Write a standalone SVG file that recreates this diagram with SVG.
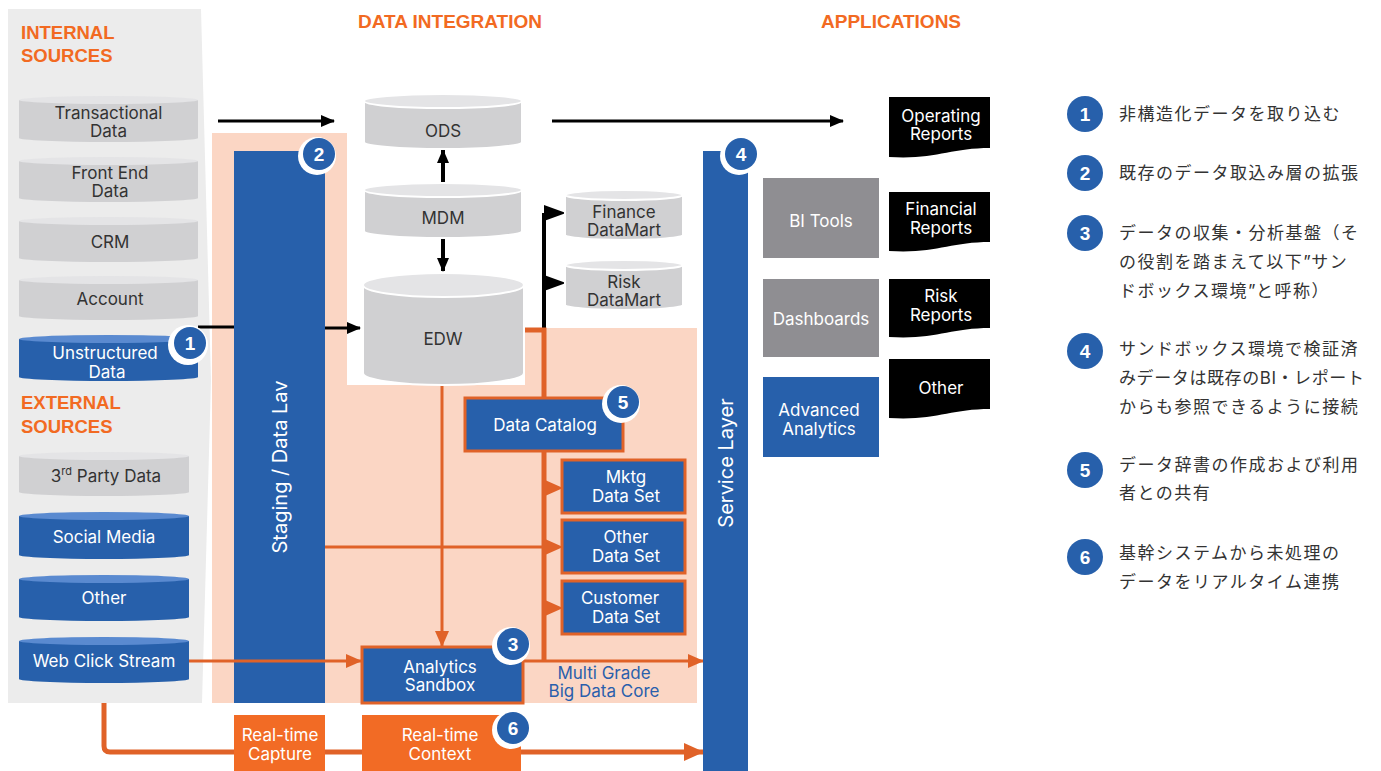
<svg xmlns="http://www.w3.org/2000/svg" width="1381" height="771" viewBox="0 0 1381 771">
<defs>
<style>
.t{font-family:Inter,"Liberation Sans",sans-serif;font-size:17px;text-anchor:middle}
.dk{fill:#333}
.wh{fill:#fff}
.mg{fill:#2a5fac}
.hd{font-family:"Liberation Sans",Arial,sans-serif;font-weight:bold;font-size:18.5px;fill:#f26a22}
.hd2{font-size:19px}
.bn{fill:#fff;font-family:"Liberation Sans",Arial,sans-serif;font-weight:bold;font-size:19px;text-anchor:middle}
.lg{font-family:"Noto Sans CJK JP",sans-serif;font-size:17px;fill:#333;letter-spacing:1.5px}
.lgn{letter-spacing:0.6px}
.lat{font-family:Inter,"Liberation Sans",sans-serif;letter-spacing:0.5px}
.rot{font-family:Inter,"Liberation Sans",sans-serif;font-size:20px;fill:#fff;text-anchor:middle}
.blue{fill:#2760ab}
.ob{fill:#2760ab;stroke:#e06228;stroke-width:3}
.org{fill:#f26b25}
.gbox{fill:#8f8e92}
.doc{fill:#000}
.ol{stroke:#e06228;fill:none}
.bl{stroke:#000;fill:none}
.cyl{fill:#d0d0d2}
.cylb{fill:#2760ab}
.cylt{fill:#e4e4e6}
.cyltb{fill:#5a8ad0}
.bc{fill:#d0d0d2;stroke:#fff;stroke-width:2}
.bct{fill:#e4e4e6;stroke:#fff;stroke-width:2}
.ring{fill:#fff}
.dot{fill:#2760ab}
</style>
<marker id="ab" markerUnits="userSpaceOnUse" markerWidth="14" markerHeight="12" refX="13" refY="6" orient="auto">
<path d="M0,0 L14,6 L0,12 Z" fill="#000"/>
</marker>
<marker id="ao" markerUnits="userSpaceOnUse" markerWidth="16" markerHeight="14" refX="15" refY="7" orient="auto">
<path d="M0,0 L16,7 L0,14 Z" fill="#e06228"/>
</marker>
<marker id="aoL" markerUnits="userSpaceOnUse" markerWidth="20" markerHeight="18" refX="19" refY="9" orient="auto">
<path d="M0,0 L20,9 L0,18 Z" fill="#e06228"/>
</marker>
</defs>

<!-- backgrounds -->
<g id="bg">
<rect width="1381" height="771" fill="#fff"/>
<polygon points="8,9 201,9 211,380 202,703 8,703" fill="#ececec"/>
<path d="M212,133 H347 V385 H525 V328 H697 V703 H212 Z" fill="#fbd6c4"/>
</g>

<g id="headers">
<text class="hd" x="21" y="39">INTERNAL</text>
<text class="hd" x="21" y="62">SOURCES</text>
<text class="hd" x="21" y="409">EXTERNAL</text>
<text class="hd" x="21" y="433">SOURCES</text>
<text class="hd hd2" x="358" y="28">DATA INTEGRATION</text>
<text class="hd hd2" x="821" y="28">APPLICATIONS</text>
</g>

<!-- connectors -->
<g id="connectors">
<line class="bl" x1="218" y1="121" x2="334" y2="121" stroke-width="3" marker-end="url(#ab)"/>
<line class="bl" x1="552" y1="121" x2="843" y2="121" stroke-width="3" marker-end="url(#ab)"/>
<line class="bl" x1="198" y1="327" x2="236" y2="327" stroke-width="3"/>
<line class="bl" x1="323" y1="328" x2="360" y2="328" stroke-width="3" marker-end="url(#ab)"/>
<line class="bl" x1="443" y1="183" x2="443" y2="150" stroke-width="4" marker-end="url(#ab)"/>
<line class="bl" x1="443" y1="238" x2="443" y2="271" stroke-width="4" marker-end="url(#ab)"/>
<polyline class="bl" points="544,330 544,213" stroke-width="4"/>
<polygon points="544,205 566,213 544,221" fill="#000"/>
<polygon points="544,275 566,283 544,291" fill="#000"/>
<polyline class="ol" points="524,330 544,330 544,661" stroke-width="5"/>
<polygon points="545,480 563,488 545,496" fill="#e06228"/>
<polygon points="545,539 563,547 545,555" fill="#e06228"/>
<polygon points="545,600 563,608 545,616" fill="#e06228"/>
<line class="ol" x1="325" y1="547" x2="545" y2="547" stroke-width="3"/>
<line class="ol" x1="442" y1="385" x2="442" y2="646" stroke-width="3" marker-end="url(#ao)"/>
<line class="ol" x1="189" y1="661" x2="361" y2="661" stroke-width="3" marker-end="url(#ao)"/>
<line class="ol" x1="523" y1="661" x2="703" y2="661" stroke-width="3" marker-end="url(#ao)"/>
<path class="ol" d="M104,703 V746 Q104,752 110,752 H703" stroke-width="5" marker-end="url(#aoL)"/>
</g>

<!-- internal sources -->
<g id="transactional">
<path class="cyl" d="M19,100 V138 A89.5,4 0 0 0 198,138 V100 Z"/>
<ellipse class="cylt" cx="108.5" cy="100" rx="89.5" ry="4"/>
<text class="t dk" x="108.5" y="119">Transactional</text>
<text class="t dk" x="108.5" y="137">Data</text>
</g>
<g id="frontend">
<path class="cyl" d="M19,161 V198 A89.5,4 0 0 0 198,198 V161 Z"/>
<ellipse class="cylt" cx="108.5" cy="161" rx="89.5" ry="4"/>
<text class="t dk" x="110" y="179">Front End</text>
<text class="t dk" x="110" y="197">Data</text>
</g>
<g id="crm">
<path class="cyl" d="M19,221 V258 A89.5,4 0 0 0 198,258 V221 Z"/>
<ellipse class="cylt" cx="108.5" cy="221" rx="89.5" ry="4"/>
<text class="t dk" x="110" y="248">CRM</text>
</g>
<g id="account">
<path class="cyl" d="M19,280 V316 A89.5,4 0 0 0 198,316 V280 Z"/>
<ellipse class="cylt" cx="108.5" cy="280" rx="89.5" ry="4"/>
<text class="t dk" x="110" y="305">Account</text>
</g>
<g id="unstructured">
<path class="cylb" d="M19,339 V377 A89.5,4 0 0 0 198,377 V339 Z"/>
<ellipse class="cyltb" cx="108.5" cy="339" rx="89.5" ry="4"/>
<text class="t wh" x="105" y="359">Unstructured</text>
<text class="t wh" x="107" y="378">Data</text>
</g>

<!-- external sources -->
<g id="thirdparty">
<path class="cyl" d="M19,456 V492 A85,4 0 0 0 189,492 V456 Z"/>
<ellipse class="cylt" cx="104" cy="456" rx="85" ry="4"/>
<text class="t dk" x="106" y="482">3<tspan font-size="11" dy="-7">rd</tspan><tspan dy="7"> Party Data</tspan></text>
</g>
<g id="social">
<path class="cylb" d="M19,516 V555 A85,4 0 0 0 189,555 V516 Z"/>
<ellipse class="cyltb" cx="104" cy="516" rx="85" ry="4"/>
<text class="t wh" x="104" y="543">Social Media</text>
</g>
<g id="otherext">
<path class="cylb" d="M19,579 V617 A85,4 0 0 0 189,617 V579 Z"/>
<ellipse class="cyltb" cx="104" cy="579" rx="85" ry="4"/>
<text class="t wh" x="104" y="604">Other</text>
</g>
<g id="webclick">
<path class="cylb" d="M19,641 V679 A85,4 0 0 0 189,679 V641 Z"/>
<ellipse class="cyltb" cx="104" cy="641" rx="85" ry="4"/>
<text class="t wh" x="104" y="667">Web Click Stream</text>
</g>

<!-- staging -->
<g id="staging">
<rect class="blue" x="234" y="151" width="91" height="552"/>
<text class="rot" transform="translate(287,467) rotate(-90)">Staging / Data Lav</text>
</g>
<g id="connectors-over">
<line class="ol" x1="234" y1="661" x2="325" y2="661" stroke-width="3"/>
</g>

<!-- data integration cylinders -->
<g id="ods">
<path class="bc" d="M364,101 V142 A79,7 0 0 0 522,142 V101 Z"/>
<ellipse class="bct" cx="443" cy="101" rx="79" ry="7"/>
<text class="t dk" x="443" y="137">ODS</text>
</g>
<g id="mdm">
<path class="bc" d="M364,190 V231 A79,7 0 0 0 522,231 V190 Z"/>
<ellipse class="bct" cx="443" cy="190" rx="79" ry="7"/>
<text class="t dk" x="443" y="224">MDM</text>
</g>
<g id="edw">
<path class="bc" d="M363,285 V373 A80.5,12 0 0 0 524,373 V285 Z" stroke-width="3"/>
<ellipse class="bct" cx="443.5" cy="285" rx="80.5" ry="12"/>
<text class="t dk" x="443" y="345">EDW</text>
</g>
<g id="finance">
<path class="bc" d="M565,195 V235 A59,5 0 0 0 683,235 V195 Z"/>
<ellipse class="bct" cx="624" cy="195" rx="59" ry="5"/>
<text class="t dk" x="624" y="218">Finance</text>
<text class="t dk" x="624" y="236">DataMart</text>
</g>
<g id="risk">
<path class="bc" d="M565,265 V305 A59,5 0 0 0 683,305 V265 Z"/>
<ellipse class="bct" cx="624" cy="265" rx="59" ry="5"/>
<text class="t dk" x="624" y="288">Risk</text>
<text class="t dk" x="624" y="306">DataMart</text>
</g>

<g id="catalog">
<rect class="ob" x="465" y="398" width="158" height="53"/>
<text class="t wh" x="545" y="431">Data Catalog</text>
</g>
<g id="mktg">
<rect class="ob" x="562" y="460" width="123" height="53"/>
<text class="t wh" x="626" y="483">Mktg</text>
<text class="t wh" x="626" y="502">Data Set</text>
</g>
<g id="otherds">
<rect class="ob" x="562" y="520" width="123" height="53"/>
<text class="t wh" x="626" y="543">Other</text>
<text class="t wh" x="626" y="562">Data Set</text>
</g>
<g id="customer">
<rect class="ob" x="562" y="581" width="123" height="53"/>
<text class="t wh" x="620" y="604">Customer</text>
<text class="t wh" x="626" y="623">Data Set</text>
</g>
<g id="sandbox">
<rect class="ob" x="362" y="647" width="161" height="56"/>
<text class="t wh" x="440" y="673">Analytics</text>
<text class="t wh" x="440" y="691">Sandbox</text>
</g>
<g id="bigdatacore">
<text class="t mg" x="604" y="679">Multi Grade</text>
<text class="t mg" x="604" y="697">Big Data Core</text>
</g>

<g id="capture">
<rect class="org" x="234" y="715" width="91" height="56"/>
<text class="t wh" x="280" y="741">Real-time</text>
<text class="t wh" x="280" y="760">Capture</text>
</g>
<g id="context">
<rect class="org" x="362" y="715" width="159" height="56"/>
<text class="t wh" x="440" y="741">Real-time</text>
<text class="t wh" x="440" y="760">Context</text>
</g>

<g id="servicelayer">
<rect class="blue" x="703" y="151" width="45" height="620"/>
<text class="rot" transform="translate(733,463) rotate(-90)">Service Layer</text>
</g>

<!-- applications -->
<g id="bitools">
<rect class="gbox" x="763" y="178" width="116" height="80"/>
<text class="t wh" x="821" y="227">BI Tools</text>
</g>
<g id="dashboards">
<rect class="gbox" x="763" y="279" width="116" height="78"/>
<text class="t wh" x="821" y="325">Dashboards</text>
</g>
<g id="advanced">
<rect class="blue" x="763" y="377" width="116" height="80"/>
<text class="t wh" x="819" y="416">Advanced</text>
<text class="t wh" x="819" y="435">Analytics</text>
</g>

<g id="operating">
<path class="doc" d="M889,97 H990 V148 C950,148 935,160 889,157 Z"/>
<text class="t wh" x="941" y="122">Operating</text>
<text class="t wh" x="941" y="140">Reports</text>
</g>
<g id="financial">
<path class="doc" d="M889,192 H990 V242 C950,242 935,254 889,251 Z"/>
<text class="t wh" x="941" y="215">Financial</text>
<text class="t wh" x="941" y="234">Reports</text>
</g>
<g id="riskreports">
<path class="doc" d="M889,279 H990 V328 C950,328 935,340 889,337 Z"/>
<text class="t wh" x="941" y="302">Risk</text>
<text class="t wh" x="941" y="321">Reports</text>
</g>
<g id="otherreports">
<path class="doc" d="M889,359 H990 V409 C950,409 935,421 889,418 Z"/>
<text class="t wh" x="941" y="394">Other</text>
</g>

<!-- badges -->
<g id="badge1"><circle class="ring" cx="188" cy="345" r="20"/><circle class="dot" cx="190" cy="343" r="16"/><text class="bn" x="190" y="350">1</text></g>
<g id="badge2"><circle class="ring" cx="317" cy="156" r="19"/><circle class="dot" cx="319" cy="154" r="16"/><text class="bn" x="319" y="161">2</text></g>
<g id="badge3"><circle class="ring" cx="511" cy="646" r="19"/><circle class="dot" cx="513" cy="644" r="16"/><text class="bn" x="513" y="651">3</text></g>
<g id="badge4"><circle class="ring" cx="739" cy="156" r="19"/><circle class="dot" cx="741" cy="154" r="16"/><text class="bn" x="741" y="161">4</text></g>
<g id="badge5"><circle class="ring" cx="621" cy="404" r="19"/><circle class="dot" cx="623" cy="402" r="16"/><text class="bn" x="623" y="409">5</text></g>
<g id="badge6"><circle class="ring" cx="511" cy="730" r="19"/><circle class="dot" cx="513" cy="728" r="16"/><text class="bn" x="513" y="735">6</text></g>

<!-- legend -->
<g id="legend1"><circle class="dot" cx="1085" cy="114" r="18"/><text class="bn" x="1085" y="121">1</text>
<text class="lg" x="1119" y="120">非構造化データを取り込む</text></g>
<g id="legend2"><circle class="dot" cx="1085" cy="173" r="18"/><text class="bn" x="1085" y="180">2</text>
<text class="lg" x="1119" y="179">既存のデータ取込み層の拡張</text></g>
<g id="legend3"><circle class="dot" cx="1085" cy="233" r="18"/><text class="bn" x="1085" y="240">3</text>
<text class="lg" x="1119" y="239">データの収集・分析基盤（そ</text>
<text class="lg" x="1119" y="268">の役割を踏まえて以下<tspan class="lat">”</tspan>サン</text>
<text class="lg" x="1119" y="297">ドボックス環境<tspan class="lat">”</tspan>と呼称）</text></g>
<g id="legend4"><circle class="dot" cx="1085" cy="351" r="18"/><text class="bn" x="1085" y="358">4</text>
<text class="lg" x="1119" y="355">サンドボックス環境で検証済</text>
<text class="lg lgn" x="1119" y="384">みデータは既存の<tspan class="lat">BI</tspan>・レポート</text>
<text class="lg" x="1119" y="413">からも参照できるように接続</text></g>
<g id="legend5"><circle class="dot" cx="1085" cy="470" r="18"/><text class="bn" x="1085" y="477">5</text>
<text class="lg" x="1119" y="471">データ辞書の作成および利用</text>
<text class="lg" x="1119" y="499">者との共有</text></g>
<g id="legend6"><circle class="dot" cx="1085" cy="557" r="18"/><text class="bn" x="1085" y="564">6</text>
<text class="lg" x="1119" y="559">基幹システムから未処理の</text>
<text class="lg" x="1119" y="588">データをリアルタイム連携</text></g>
</svg>
